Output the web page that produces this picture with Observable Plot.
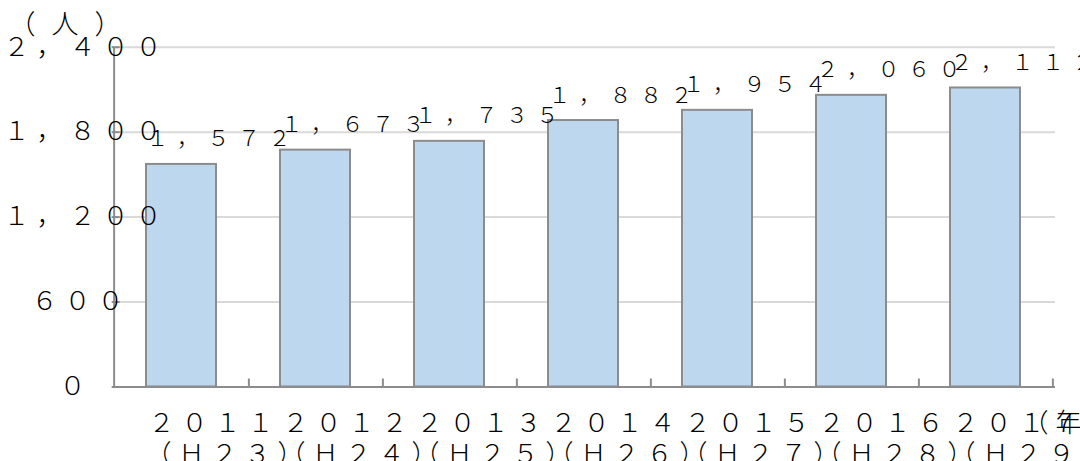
<!DOCTYPE html>
<html>
<head>
<meta charset="utf-8">
<script src="https://cdn.jsdelivr.net/npm/d3@7"></script>
<script src="https://cdn.jsdelivr.net/npm/@observablehq/plot@0.6"></script>
<style>
  html, body { margin: 0; padding: 0; background: #fff; overflow: hidden; }
  svg { display: block; }
  svg text { font-weight: 300; }
  g[font-size="26"] text { letter-spacing: 7px; }
  g[font-size="22"] text { letter-spacing: 8.5px; }
  g[font-size="27"] text { letter-spacing: 16px; }
</style>
</head>
<body>
<div id="chart"></div>
<script>
// ---- data ----
const years = ["２０１１", "２０１２", "２０１３", "２０１４", "２０１５", "２０１６", "２０１７"];
const eras = ["（Ｈ２３）", "（Ｈ２４）", "（Ｈ２５）", "（Ｈ２６）", "（Ｈ２７）", "（Ｈ２８）", "（Ｈ２９）"];
const counts = [1572, 1673, 1735, 1882, 1954, 2060, 2112];
const yTicks = [0, 600, 1200, 1800, 2400];
const yTickLabels = ["０", "６００", "１，２００", "１，８００", "２，４００"];
const unitY = "（人）";
const unitX = "（年）";

// full-width number format
const fw = (v) => d3.format(",")(v).replace(/[0-9]/g, c => String.fromCharCode(c.charCodeAt(0) + 0xFEE0)).replace(/,/g, "，");

const data = years.map((y, i) => ({year: y, era: eras[i], count: counts[i]}));
const ticks = yTicks.map((v, i) => ({v, label: yTickLabels[i]}));

// ---- layout ----
const W = 1080, H = 461;
const ml = 111.7, mr = 25, mt = 46.7, mb = 74.5;
const frameW = W - ml - mr;
const step = frameW / years.length;
const axisColor = "#8c8c8c";

const lengths = [...new Set(yTickLabels.map(s => s.length))];
const yLabelMarks = lengths.map(n => Plot.text(ticks.filter(t => t.label.length === n), {
  y: "v", text: "label", frameAnchor: "left", textAnchor: "start", lineAnchor: "middle",
  dx: -38.7 - 14 * n, fontSize: 26, fill: "#000"
}));

const chart = Plot.plot({
  width: W, height: H,
  marginLeft: ml, marginRight: mr, marginTop: mt, marginBottom: mb,
  style: {fontFamily: "'Noto Sans CJK JP', 'Noto Sans', sans-serif", background: "#fff", overflow: "visible"},
  x: {domain: years, axis: null, paddingInner: 0.474, paddingOuter: 0.237},
  y: {domain: [0, 2400], axis: null},
  marks: [
    Plot.ruleY(yTicks.slice(1), {y: d => d, stroke: "#d9d9d9", strokeWidth: 2}),
    Plot.barY(data, {x: "year", y: "count", fill: "#bdd7ee", stroke: axisColor, strokeWidth: 2}),
    // y axis line
    Plot.ruleX([years[0]], {x: d => d, dx: -step / 2, y1: 0, y2: 2400, stroke: axisColor, strokeWidth: 2}),
    // y ticks (inside)
    Plot.ruleY(yTicks.slice(1), {y: d => d, insetRight: frameW - 8, stroke: axisColor, strokeWidth: 2}),
    // x axis line
    Plot.ruleY([0], {stroke: axisColor, strokeWidth: 2}),
    // x ticks at category boundaries (inside)
    Plot.ruleX(years, {x: d => d, dx: step / 2, y1: 0, y2: 0, insetTop: -8, stroke: axisColor, strokeWidth: 2}),
    // value labels
    Plot.text(data, {x: "year", y: "count", text: d => fw(d.count), textAnchor: "start", lineAnchor: "bottom",
      dx: -35, dy: -18, fontSize: 22, fill: "#000"}),
    // x labels
    Plot.text(data, {x: "year", text: "year", frameAnchor: "bottom", textAnchor: "start", lineAnchor: "bottom",
      dx: -33, dy: 44.5, fontSize: 26, fill: "#000"}),
    Plot.text(data, {x: "year", text: "era", frameAnchor: "bottom", textAnchor: "start", lineAnchor: "bottom",
      dx: -36, dy: 75.5, fontSize: 26, fill: "#000"}),
    Plot.text([unitX], {text: d => d, frameAnchor: "bottom-right", textAnchor: "start", lineAnchor: "bottom",
      dx: -33, dy: 44.5, fontSize: 26, fill: "#000"}),
    ...yLabelMarks,
    Plot.text([unitY], {text: d => d, frameAnchor: "top-left", textAnchor: "start", lineAnchor: "bottom",
      dx: 8 - ml, dy: 33 - mt, fontSize: 27, fill: "#000"})
  ]
});
document.getElementById("chart").appendChild(chart);
</script>
</body>
</html>
